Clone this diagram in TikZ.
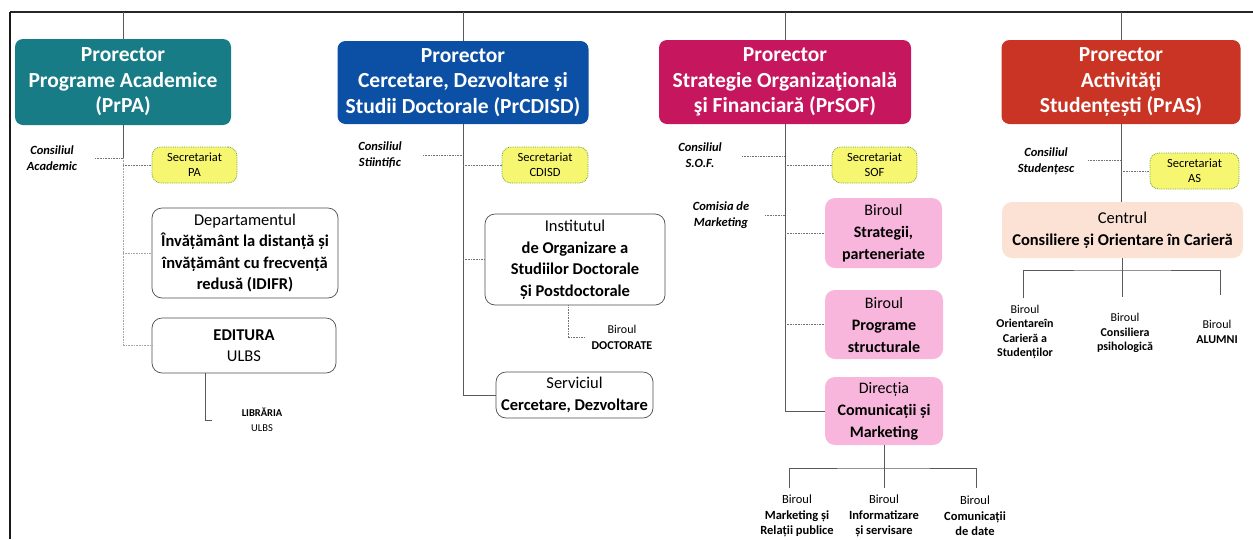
\documentclass[tikz,border=0pt]{standalone}
\usepackage{fontspec}
\setmainfont{Carlito}
\definecolor{cteal}{RGB}{24,124,134}
\definecolor{cblue}{RGB}{12,80,166}
\definecolor{cmag}{RGB}{198,22,94}
\definecolor{cred}{RGB}{202,52,36}
\definecolor{cyellow}{RGB}{246,246,112}
\definecolor{cgreen}{RGB}{110,160,60}
\definecolor{cpink}{RGB}{248,182,220}
\definecolor{cpeach}{RGB}{251,226,212}
\begin{document}
\begin{tikzpicture}[x=1pt,y=-1pt,
 prbox/.style={rounded corners=8pt, text=white, font=\bfseries\fontsize{21.5}{25.5}\selectfont, align=center, inner sep=0pt},
 secbox/.style={draw=cgreen, densely dotted, line width=0.8pt, fill=cyellow, rounded corners=9pt, align=center, font=\fontsize{12.5}{15}\selectfont, inner sep=0pt, minimum height=36pt},
 wbox/.style={draw=black!70, line width=0.7pt, rounded corners=10pt, align=center, font=\fontsize{16.5}{21.5}\selectfont, inner sep=0pt},
 pbox/.style={fill=cpink, rounded corners=10pt, align=center, font=\fontsize{16}{22}\selectfont, inner sep=0pt},
 note/.style={align=center, font=\bfseries\itshape\fontsize{12.5}{16}\selectfont, inner sep=0pt},
 small/.style={align=center, font=\fontsize{12.5}{15.5}\selectfont, inner sep=0pt},
 trunk/.style={draw=black!65, line width=0.6pt},
 link/.style={draw=black!55, densely dotted, line width=0.6pt},
]
\useasboundingbox (0,0) rectangle (1253,539);
% frame
\coordinate (tl) at (10,12);
\coordinate (tr) at (1253,12);
\coordinate (bl) at (10,539);
\draw[line width=1.4pt, black!85] (tl) -- (tr);
\draw[line width=2.4pt, black!90] (tl) -- (bl);

% ---------------- Prorector boxes
\node[prbox, fill=cteal, minimum width=216pt, minimum height=86pt] (prpa) at (123,82)
 {Prorector\\Programe Academice\\(PrPA)};
\node[prbox, fill=cblue, minimum width=251pt, minimum height=83pt] (prcd) at (463,82.5)
 {Prorector\\Cercetare, Dezvoltare și\\Studii Doctorale (PrCDISD)};
\node[prbox, fill=cmag, minimum width=252pt, minimum height=84pt] (prsof) at (785,82)
 {Prorector\\Strategie Organizaţională\\şi Financiară (PrSOF)};
\node[prbox, fill=cred, minimum width=239pt, minimum height=84pt] (pras) at (1121,82)
 {Prorector\\Activităţi\\Studențești (PrAS)};

\foreach \n in {prpa,prcd,prsof,pras}
  \draw[trunk] (\n.north) -- (\n.north |- tl);

% ---------------- Secretariat boxes
\node[secbox, minimum width=85pt] (secpa) at (194.5,165) {Secretariat\\PA};
\node[secbox, minimum width=86pt] (seccd) at (545,165) {Secretariat\\CDISD};
\node[secbox, minimum width=85pt] (secsof) at (874.5,165) {Secretariat\\SOF};
\node[secbox, minimum width=89pt] (secas) at (1194.5,171) {Secretariat\\AS};

% ---------------- Councils
\node[note] (conpa) at (52,158) {Consiliul\\Academic};
\node[note] (concd) at (380,155) {Consiliul\\Stiintific};
\node[note] (consof) at (700,155) {Consiliul\\S.O.F.};
\node[note] (comm) at (721,215) {Comisia de\\Marketing};
\node[note] (conas) at (1046,161) {Consiliul\\Studențesc};

\coordinate (cpa) at (95,158);
\coordinate (ccd) at (423,155);
\coordinate (csof) at (742,156);
\coordinate (ccom) at (765,215);
\coordinate (cas) at (1088,160);

% ---------------- PrPA branch
\node[wbox, minimum width=186pt, minimum height=90pt] (dep) at (245,253)
 {Departamentul\\\textbf{Învățământ la distanță și}\\\textbf{învățământ cu frecvență}\\\textbf{redusă (IDIFR)}};
\node[wbox, minimum width=184pt, minimum height=55pt] (edit) at (244,345.5)
 {\textbf{EDITURA}\\ULBS};
\node[align=center, inner sep=0pt, font=\fontsize{10.5}{15}\selectfont] (lib) at (262,420)
 {\textbf{LIBRĂRIA}\\ULBS};

\draw[trunk] (prpa.south) -- (cpa -| prpa.south);
\draw[link, black!35] (cpa -| prpa.south) |- (edit.west);
\draw[link] (cpa) -- (cpa -| prpa.south);
\draw[link] (secpa.west -| prpa.south) -- (secpa.west);
\draw[link, black!35] (dep.west -| prpa.south) -- (dep.west);
\draw[trunk] ([xshift=-39pt]edit.south) |- ([xshift=-30pt]lib.west);

% ---------------- PrCDISD branch
\node[wbox, minimum width=180pt, minimum height=91pt] (inst) at (575,259.5)
 {Institutul\\\textbf{de Organizare a}\\\textbf{Studiilor Doctorale}\\\textbf{Și Postdoctorale}};
\node[small, font=\fontsize{12}{15.5}\selectfont] (doc) at (622,337.5) {Biroul\\\textbf{DOCTORATE}};
\node[wbox, minimum width=157pt, minimum height=46pt] (serv) at (574.5,395)
 {Serviciul\\\textbf{Cercetare, Dezvoltare}};

\draw[trunk] (prcd.south) |- (serv.west);
\draw[link] (ccd) -- (ccd -| prcd.south);
\draw[link] (seccd.west -| prcd.south) -- (seccd.west);
\draw[link] (inst.west -| prcd.south) -- (inst.west);
\draw[link] ([xshift=-7pt]inst.south) |- ([xshift=-6pt]doc.west);

% ---------------- PrSOF branch
\node[pbox, minimum width=117pt, minimum height=70pt] (strat) at (883.5,233)
 {Biroul\\\textbf{Strategii,}\\\textbf{parteneriate}};
\node[pbox, minimum width=118pt, minimum height=69pt] (prog) at (884,324.5)
 {Biroul\\\textbf{Programe}\\\textbf{structurale}};
\node[pbox, minimum width=118pt, minimum height=68pt] (dir) at (884,411)
 {Direcția\\\textbf{Comunicații și}\\\textbf{Marketing}};

\draw[trunk] (prsof.south) |- (dir.west);
\draw[link] (csof) -- (csof -| prsof.south);
\draw[link] (ccom) -- (ccom -| prsof.south);
\draw[link] (secsof.west -| prsof.south) -- (secsof.west);
\draw[link] (strat.west -| prsof.south) -- (strat.west);
\draw[link] (prog.west -| prsof.south) -- (prog.west);

\node[small] (bm1) at (797,516) {Biroul\\\textbf{Marketing și}\\\textbf{Relații publice}};
\node[small] (bm2) at (884,516) {Biroul\\\textbf{Informatizare}\\\textbf{și servisare}};
\node[small] (bm3) at (975,516) {Biroul\\\textbf{Comunicații}\\\textbf{de date}};
\coordinate (dbar) at (884,468);
\coordinate (d1) at (789,488);
\coordinate (d2) at (884,488);
\coordinate (d3) at (976,488);
\draw[trunk, line width=0.9pt] (dir.south) -- (dbar);
\draw[trunk] (d1) |- (dbar) -| (d3);
\draw[trunk] (dbar) -- (d2);

% ---------------- PrAS branch
\node[fill=cpeach, rounded corners=10pt, align=center, inner sep=0pt,
      font=\fontsize{16.5}{22}\selectfont, minimum width=241pt, minimum height=56pt] (cent) at (1122.5,230)
 {Centrul\\\textbf{Consiliere și Orientare în Carieră}};

\draw[trunk] (pras.south) -- (pras.south |- cent.north);
\draw[link] (cas) -- (cas -| pras.south);
\draw[link] (secas.west -| pras.south) -- (secas.west);

\node[small, font=\fontsize{12}{14.5}\selectfont] (a1) at (1025,332)
 {Biroul\\\textbf{Orientareîn}\\\textbf{Carieră a}\\\textbf{Studenților}};
\node[small, font=\fontsize{12}{14.5}\selectfont] (a2) at (1125,333)
 {Biroul\\\textbf{Consiliera}\\\textbf{psihologică}};
\node[small, font=\fontsize{12}{14.5}\selectfont] (a3) at (1217,332)
 {Biroul\\\textbf{ALUMNI}};
\coordinate (abar) at (1122.5,270);
\coordinate (e1) at (1023,298);
\coordinate (e2) at (1122.5,297);
\coordinate (e3) at (1220,295);
\draw[trunk, line width=0.9pt] (cent.south) -- (abar);
\draw[trunk] (e1) |- (abar) -| (e3);
\draw[trunk] (abar) -- (e2);
\end{tikzpicture}
\end{document}
